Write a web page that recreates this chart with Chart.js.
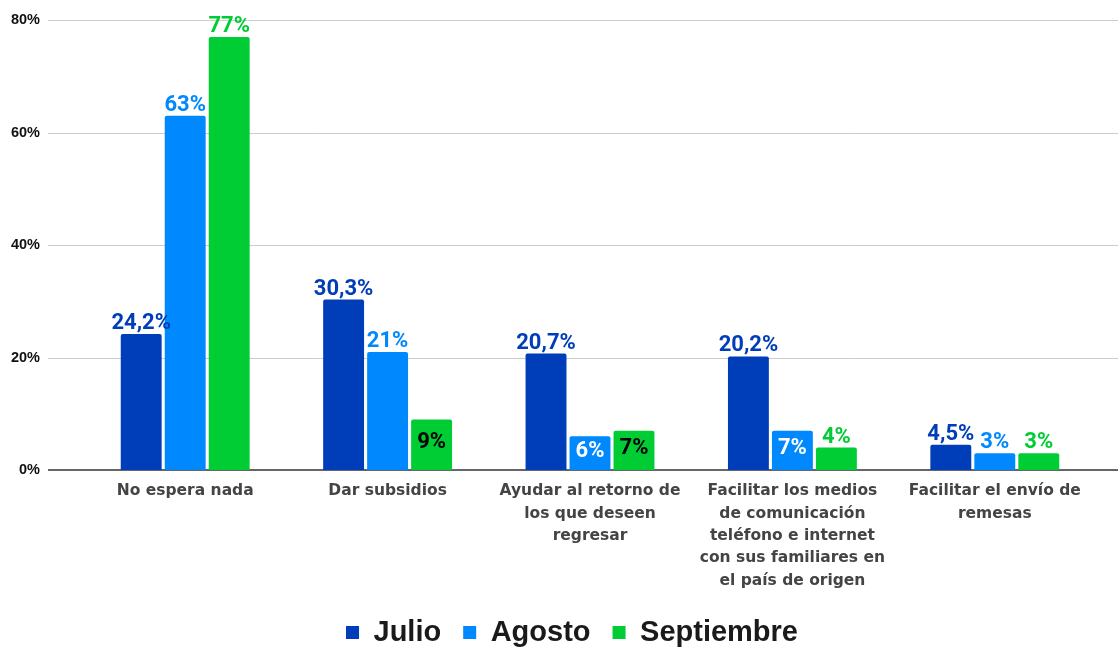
<!DOCTYPE html>
<html>
<head>
<meta charset="utf-8">
<script src="https://cdn.jsdelivr.net/npm/chart.js@4/dist/chart.umd.min.js"></script>
<style>
  html, body { margin: 0; padding: 0; background: #fff; }
  #wrap { width: 1118px; height: 648px; }
</style>
</head>
<body>
<div id="wrap"><canvas id="chart"></canvas></div>
<script>
// Categorías (etiquetas del eje X, en varias líneas)
const categorias = [
  'No espera nada',
  'Dar subsidios',
  ['Ayudar al retorno de', 'los que deseen', 'regresar'],
  ['Facilitar los medios', 'de comunicación', 'teléfono e internet', 'con sus familiares en', 'el país de origen'],
  ['Facilitar el envío de', 'remesas']
];

// Valores por mes (%)
const julio = [24.2, 30.3, 20.7, 20.2, 4.5];
const agosto = [63, 21, 6, 7, 3];
const septiembre = [77, 9, 7, 4, 3];

// Marcas del eje Y
const ticksY = [0, 20, 40, 60, 80];

const colores = {
  julio: '#003db8',
  agosto: '#0088ff',
  septiembre: '#00cc33'
};

// Líneas de la cuadrícula, desde el borde de las etiquetas hasta la derecha
const gridPlugin = {
  id: 'gridExtendida',
  beforeDatasetsDraw(chart) {
    const ctx = chart.ctx;
    const y = chart.scales.y;
    ctx.save();
    ticksY.forEach(v => {
      const py = Math.round(y.getPixelForValue(v));
      ctx.beginPath();
      if (v === 0) {
        ctx.strokeStyle = '#666';
        ctx.lineWidth = 2;
        ctx.moveTo(48, py);
        ctx.lineTo(chart.width, py);
      } else {
        ctx.strokeStyle = '#cccccc';
        ctx.lineWidth = 1;
        ctx.moveTo(48, py + 0.5);
        ctx.lineTo(chart.width, py + 0.5);
      }
      ctx.stroke();
    });
    ctx.restore();
  }
};

// La leyenda va un poco a la derecha del centro por defecto
const leyendaPlugin = {
  id: 'moverLeyenda',
  afterLayout(chart) {
    const lg = chart.legend;
    lg.left += 24;
    lg.right += 24;
  }
};

// Etiquetas de datos sobre / dentro de las barras
const etiquetasPlugin = {
  id: 'etiquetasBarras',
  afterDatasetsDraw(chart) {
    const ctx = chart.ctx;
    ctx.save();
    ctx.font = 'bold 22px Roboto';
    ctx.textAlign = 'center';
    chart.data.datasets.forEach((ds, i) => {
      const meta = chart.getDatasetMeta(i);
      meta.data.forEach((bar, j) => {
        const v = ds.data[j];
        const txt = (Number.isInteger(v) ? v : v.toFixed(1).replace('.', ',')) + '%';
        const dentro = v >= 5 && v < 10;
        if (dentro) {
          ctx.fillStyle = ds.colorDentro;
          ctx.textBaseline = 'middle';
          ctx.fillText(txt, bar.x, (bar.y + bar.base) / 2 - 2);
        } else {
          ctx.fillStyle = ds.backgroundColor;
          ctx.textBaseline = 'alphabetic';
          ctx.fillText(txt, bar.x, bar.y - 5);
        }
      });
    });
    ctx.restore();
  }
};

const ctx = document.getElementById('chart').getContext('2d');

const grafico = new Chart(ctx, {
  type: 'bar',
  data: {
    labels: categorias,
    datasets: [
      { label: 'Julio', data: julio, backgroundColor: colores.julio, colorDentro: '#ffffff' },
      { label: 'Agosto', data: agosto, backgroundColor: colores.agosto, colorDentro: '#ffffff' },
      { label: 'Septiembre', data: septiembre, backgroundColor: colores.septiembre, colorDentro: '#000000' }
    ]
  },
  options: {
    responsive: true,
    maintainAspectRatio: false,
    animation: false,
    layout: { padding: { top: 20, right: 22, bottom: -9, left: 0 } },
    datasets: {
      bar: {
        categoryPercentage: 0.652,
        barPercentage: 0.93,
        borderRadius: 2,
        borderSkipped: 'bottom'
      }
    },
    scales: {
      x: {
        grid: { display: false, drawTicks: false },
        border: { display: false },
        afterFit(scale) { scale.height = 126; },
        ticks: {
          autoSkip: false,
          maxRotation: 0,
          padding: 10,
          color: '#444',
          font: { family: 'DejaVu Sans', weight: 'bold', size: 15.5, lineHeight: 1.445 }
        }
      },
      y: {
        min: 0,
        max: 80,
        grid: { display: false, drawTicks: false },
        border: { display: false },
        afterFit(scale) {
          scale.width = 84;
          scale.paddingTop = 8;
          scale.paddingBottom = 8;
        },
        afterBuildTicks(scale) { scale.ticks = ticksY.map(v => ({ value: v })); },
        ticks: {
          padding: 44,
          color: '#111',
          font: { family: 'Liberation Sans', weight: 'bold', size: 14.5 },
          callback: v => v + '%'
        }
      }
    },
    plugins: {
      legend: {
        position: 'bottom',
        labels: {
          boxWidth: 13,
          boxHeight: 13,
          padding: 22,
          color: '#1a1a1a',
          font: { family: 'Liberation Sans', weight: 'bold', size: 29 }
        }
      },
      tooltip: { enabled: false }
    }
  },
  plugins: [gridPlugin, leyendaPlugin, etiquetasPlugin]
});
</script>
</body>
</html>
